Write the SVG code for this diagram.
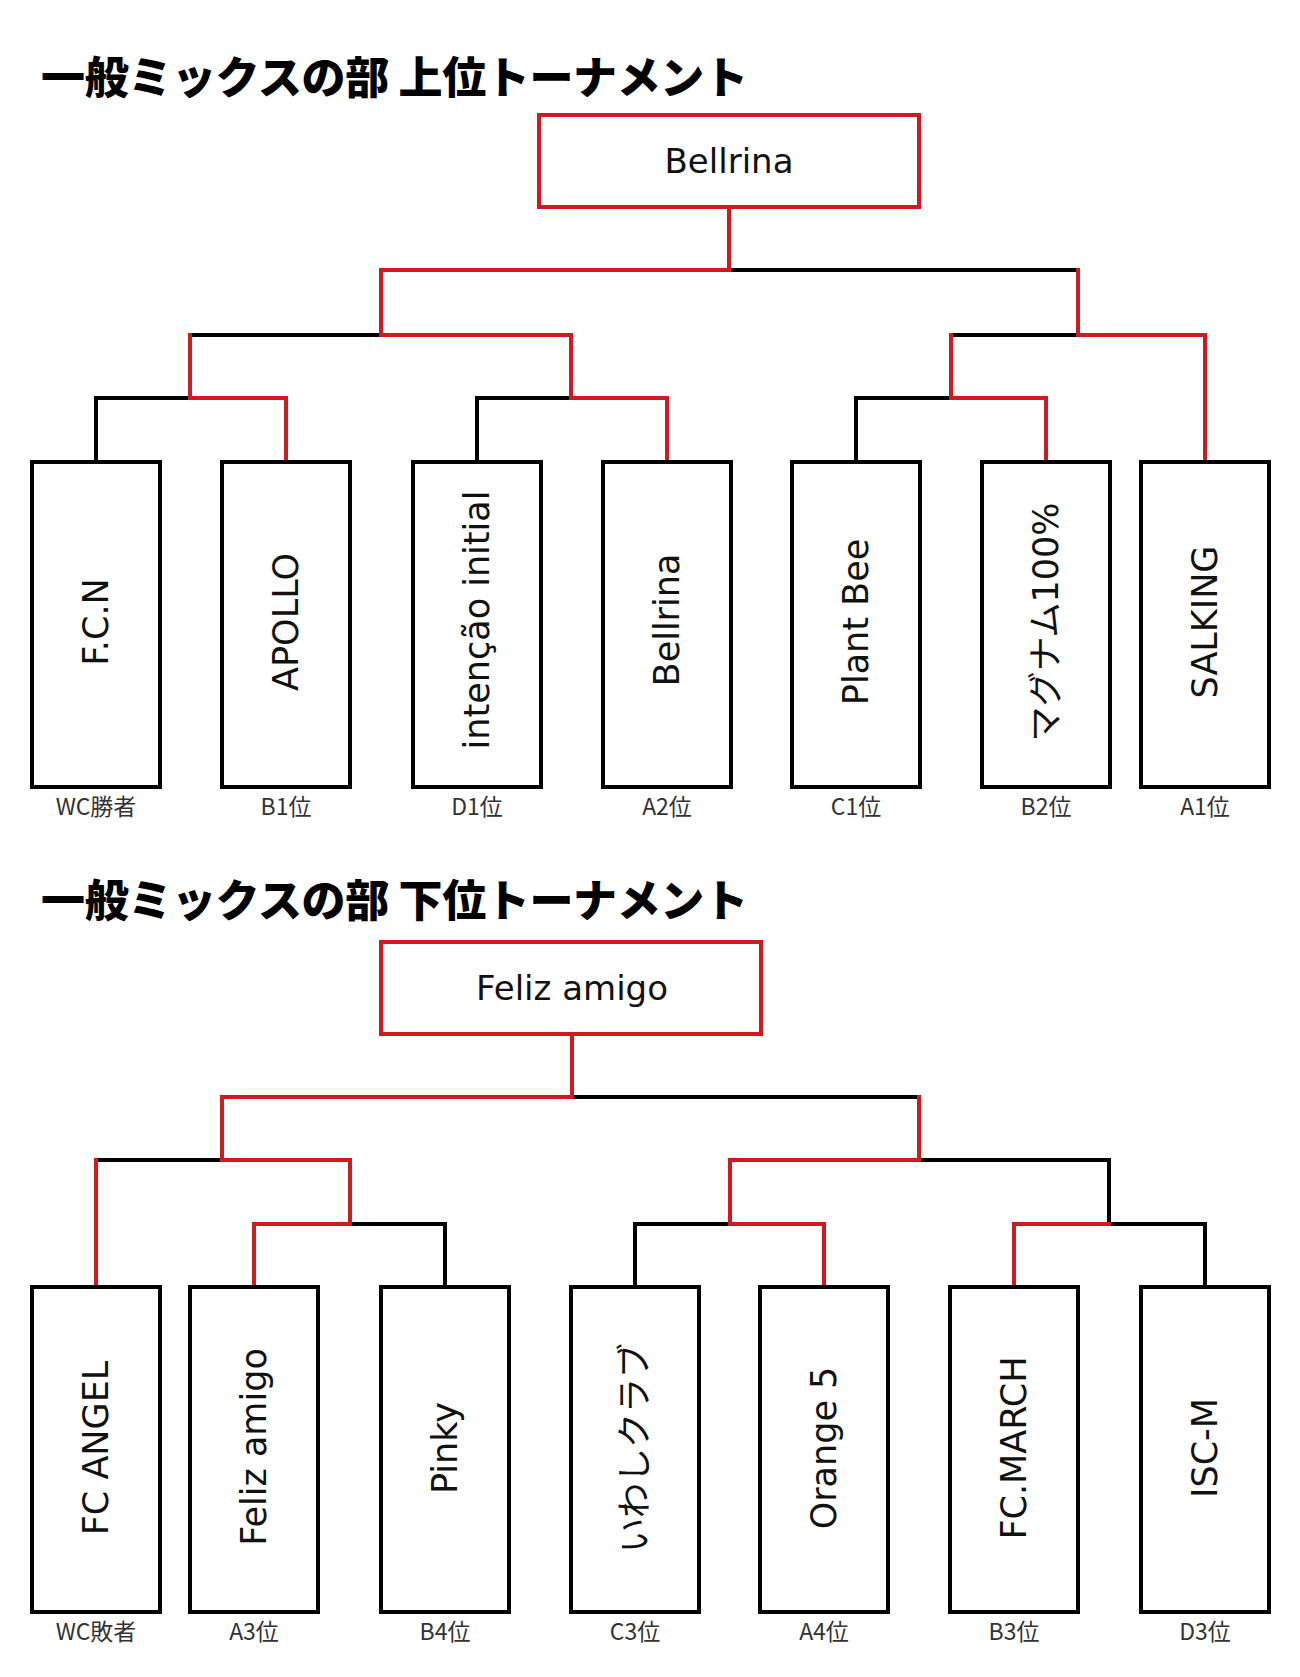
<svg xmlns="http://www.w3.org/2000/svg" width="1300" height="1677" viewBox="0 0 1300 1677">
<style>
.title{font-family:"Noto Sans CJK JP",sans-serif;font-weight:900;font-size:44px;fill:#000}
.box{fill:#fff;stroke:#000;stroke-width:4}
.champ{fill:#fff;stroke:#d01a1f;stroke-width:4}
.k{fill:none;stroke:#000;stroke-width:4;stroke-linecap:square}
.r{fill:none;stroke:#d01a1f;stroke-width:4;stroke-linecap:square}
.name{font-family:"DejaVu Sans","Noto Sans CJK JP",sans-serif;font-size:35px;fill:#111;text-anchor:middle}
.cname{font-family:"DejaVu Sans","Noto Sans CJK JP",sans-serif;font-size:34px;fill:#111;text-anchor:middle}
.label{font-family:"Noto Sans CJK JP",sans-serif;font-size:23px;fill:#333;text-anchor:middle}
</style>
<rect width="1300" height="1677" fill="#fff"/>

<text class="title" x="41" y="94" textLength="707" lengthAdjust="spacing">一般ミックスの部 上位トーナメント</text>
<text class="title" x="41" y="917" textLength="707" lengthAdjust="spacing">一般ミックスの部 下位トーナメント</text>

<g id="connectors">
  <!-- upper black -->
  <path class="k" d="M729 270H1078 M190 335H381 M96 398H190 M96 398V462 M477 398H571 M477 398V462 M951 335H1078 M856 398H951 M856 398V462"/>
  <!-- upper red -->
  <path class="r" d="M729 207V270 M381 270H729 M381 270V335 M1078 270V335 M381 335H571 M190 335V398 M571 335V398 M190 398H286 M286 398V462 M571 398H667 M667 398V462 M1078 335H1205 M951 335V398 M1205 335V462 M951 398H1046 M1046 398V462"/>
  <!-- lower black -->
  <path class="k" d="M572 1097H919 M96 1160H222 M350 1224H445 M445 1224V1287 M919 1160H1109 M1109 1160V1224 M635 1224H730 M635 1224V1287 M1109 1224H1205 M1205 1224V1287"/>
  <!-- lower red -->
  <path class="r" d="M572 1034V1097 M222 1097H572 M222 1097V1160 M919 1097V1160 M222 1160H350 M96 1160V1287 M350 1160V1224 M254 1224H350 M254 1224V1287 M730 1160H919 M730 1160V1224 M730 1224H824 M824 1224V1287 M1014 1224H1109 M1014 1224V1287"/>
</g>

<g id="upper-champion"><rect class="champ" x="539" y="115" width="380" height="92"/><text class="cname" x="729" y="173">Bellrina</text></g>
<g id="u1"><rect class="box" x="32" y="462" width="128" height="325"/><text class="name" transform="translate(96 622) rotate(-90)" y="12">F.C.N</text><text class="label" x="96" y="815">WC勝者</text></g>
<g id="u2"><rect class="box" x="222" y="462" width="128" height="325"/><text class="name" transform="translate(286 622) rotate(-90)" y="12">APOLLO</text><text class="label" x="286" y="815">B1位</text></g>
<g id="u3"><rect class="box" x="413" y="462" width="128" height="325"/><text class="name" transform="translate(477 620) rotate(-90)" y="12">intenção initial</text><text class="label" x="477" y="815">D1位</text></g>
<g id="u4"><rect class="box" x="603" y="462" width="128" height="325"/><text class="name" transform="translate(667 620) rotate(-90)" y="12">Bellrina</text><text class="label" x="667" y="815">A2位</text></g>
<g id="u5"><rect class="box" x="792" y="462" width="128" height="325"/><text class="name" transform="translate(856 622) rotate(-90)" y="12">Plant Bee</text><text class="label" x="856" y="815">C1位</text></g>
<g id="u6"><rect class="box" x="982" y="462" width="128" height="325"/><text class="name" transform="translate(1046 622) rotate(-90)" y="12">マグナム100%</text><text class="label" x="1046" y="815">B2位</text></g>
<g id="u7"><rect class="box" x="1141" y="462" width="128" height="325"/><text class="name" transform="translate(1205 622) rotate(-90)" y="12">SALKING</text><text class="label" x="1205" y="815">A1位</text></g>

<g id="lower-champion"><rect class="champ" x="381" y="942" width="380" height="92"/><text class="cname" x="572" y="1000">Feliz amigo</text></g>
<g id="l1"><rect class="box" x="32" y="1287" width="128" height="325"/><text class="name" transform="translate(96 1448) rotate(-90)" y="12">FC ANGEL</text><text class="label" x="96" y="1640">WC敗者</text></g>
<g id="l2"><rect class="box" x="190" y="1287" width="128" height="325"/><text class="name" transform="translate(254 1447) rotate(-90)" y="12">Feliz amigo</text><text class="label" x="254" y="1640">A3位</text></g>
<g id="l3"><rect class="box" x="381" y="1287" width="128" height="325"/><text class="name" transform="translate(445 1448) rotate(-90)" y="12">Pinky</text><text class="label" x="445" y="1640">B4位</text></g>
<g id="l4"><rect class="box" x="571" y="1287" width="128" height="325"/><text class="name" transform="translate(635 1448) rotate(-90)" y="12">いわしクラブ</text><text class="label" x="635" y="1640">C3位</text></g>
<g id="l5"><rect class="box" x="760" y="1287" width="128" height="325"/><text class="name" transform="translate(824 1448) rotate(-90)" y="12">Orange 5</text><text class="label" x="824" y="1640">A4位</text></g>
<g id="l6"><rect class="box" x="950" y="1287" width="128" height="325"/><text class="name" transform="translate(1014 1448) rotate(-90)" y="12">FC.MARCH</text><text class="label" x="1014" y="1640">B3位</text></g>
<g id="l7"><rect class="box" x="1141" y="1287" width="128" height="325"/><text class="name" transform="translate(1205 1448) rotate(-90)" y="12">ISC-M</text><text class="label" x="1205" y="1640">D3位</text></g>
</svg>
